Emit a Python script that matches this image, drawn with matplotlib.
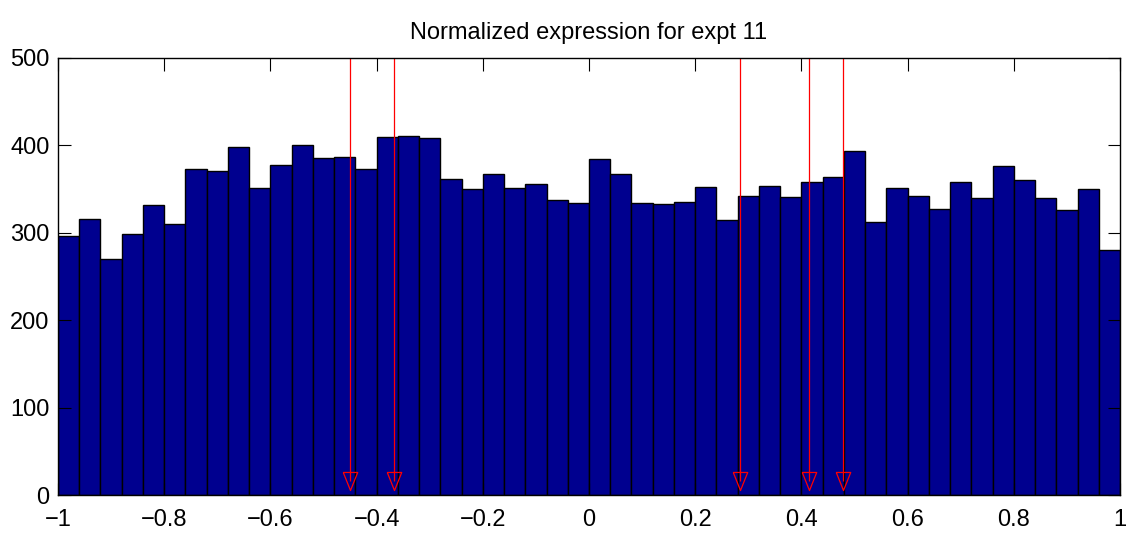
import numpy as np
import matplotlib.pyplot as plt
from matplotlib import font_manager

# histogram counts, 50 bins from -1 to 1
counts = [296, 316, 270, 299, 332, 310, 373, 371, 398, 351,
          378, 401, 386, 387, 373, 410, 411, 408, 362, 350,
          367, 351, 356, 338, 334, 384, 367, 334, 333, 335,
          352, 315, 342, 354, 341, 358, 364, 394, 312, 351,
          342, 327, 358, 340, 376, 360, 340, 326, 350, 280]
x_min, x_max = -1.0, 1.0

# marked positions (red stems)
marks = [-0.450, -0.367, 0.285, 0.415, 0.479]
mark_y = 16

names = {f.name for f in font_manager.fontManager.ttflist}
if 'Liberation Sans Narrow' in names:
    plt.rcParams['font.family'] = ['Liberation Sans Narrow', 'DejaVu Sans']
    fs = 19.5
else:
    plt.rcParams['font.family'] = ['Liberation Sans', 'DejaVu Sans']
    fs = 17

fig = plt.figure(figsize=(11.3, 5.37), dpi=100)
ax = fig.add_axes([58 / 1130, 42 / 537, 1062 / 1130, 437 / 537])

edges = np.linspace(x_min, x_max, len(counts) + 1)
ax.bar(edges[:-1], counts, width=np.diff(edges), align='edge',
       color='#00008f', edgecolor='black', linewidth=1.0)

tri = [(-0.8, 1), (0.8, 1), (0, -1), (-0.8, 1)]
ax.vlines(marks, mark_y, 500, colors='red', linewidth=0.9)
ax.plot(marks, [mark_y] * len(marks), linestyle='none', marker=tri,
        markersize=13, markerfacecolor='none', markeredgecolor='red',
        markeredgewidth=0.9)

ax.set_xlim(x_min, x_max)
ax.set_ylim(0, 500)
ax.set_xticks(np.round(np.arange(-1, 1.01, 0.2), 1))
ax.set_xticklabels(['\u22121', '\u22120.8', '\u22120.6', '\u22120.4', '\u22120.2',
                    '0', '0.2', '0.4', '0.6', '0.8', '1'])
ax.set_yticks([0, 100, 200, 300, 400, 500])
ax.tick_params(direction='in', length=9, width=0.8, top=True, right=True,
               labelsize=fs)
ax.tick_params(axis='x', pad=10)
ax.tick_params(axis='y', pad=6)
for s in ax.spines.values():
    s.set_linewidth(1.0)

ax.set_title('Normalized expression for expt 11', fontsize=fs, pad=14)

fig.savefig('out.png', dpi=100)
